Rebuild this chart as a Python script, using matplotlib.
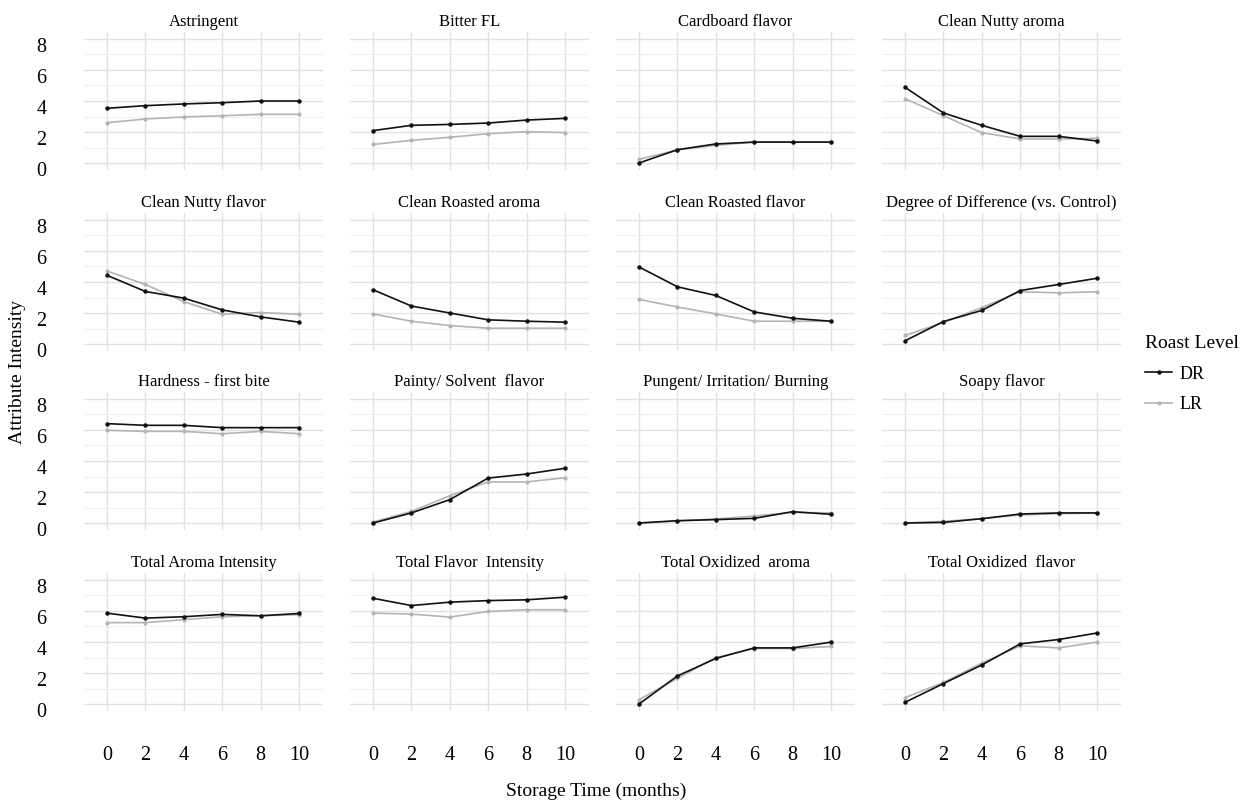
import matplotlib
matplotlib.use("Agg")
import matplotlib.pyplot as plt
import matplotlib.transforms as mtransforms
import numpy as np

plt.rcParams['font.family'] = ['Liberation Serif', 'DejaVu Serif']

# storage time (months)
months = [0, 2, 4, 6, 8, 10]

attributes = ['Astringent', 'Bitter FL', 'Cardboard flavor', 'Clean Nutty aroma',
              'Clean Nutty flavor', 'Clean Roasted aroma', 'Clean Roasted flavor',
              'Degree of Difference (vs. Control)',
              'Hardness - first bite', 'Painty/ Solvent  flavor',
              'Pungent/ Irritation/ Burning', 'Soapy flavor',
              'Total Aroma Intensity', 'Total Flavor  Intensity',
              'Total Oxidized  aroma', 'Total Oxidized  flavor']

# DR = dark roast, LR = light roast
dr_values = [
    [3.53, 3.70, 3.81, 3.89, 4.00, 4.00],
    [2.09, 2.43, 2.49, 2.58, 2.77, 2.88],
    [0.00, 0.86, 1.23, 1.35, 1.35, 1.35],
    [4.88, 3.23, 2.43, 1.72, 1.72, 1.42],
    [4.43, 3.39, 2.96, 2.20, 1.75, 1.41],
    [3.50, 2.45, 2.00, 1.56, 1.47, 1.41],
    [4.97, 3.69, 3.13, 2.07, 1.66, 1.47],
    [0.21, 1.45, 2.17, 3.45, 3.84, 4.24],
    [6.41, 6.30, 6.30, 6.15, 6.15, 6.15],
    [0.00, 0.65, 1.51, 2.90, 3.16, 3.53],
    [0.00, 0.15, 0.22, 0.30, 0.73, 0.56],
    [0.00, 0.04, 0.28, 0.58, 0.65, 0.65],
    [5.86, 5.54, 5.63, 5.78, 5.69, 5.84],
    [6.82, 6.35, 6.57, 6.67, 6.72, 6.89],
    [0.00, 1.81, 2.94, 3.62, 3.62, 3.99],
    [0.11, 1.32, 2.52, 3.88, 4.16, 4.58],
]
lr_values = [
    [2.60, 2.84, 2.97, 3.05, 3.14, 3.14],
    [1.20, 1.46, 1.66, 1.89, 2.02, 1.96],
    [0.24, 0.84, 1.14, 1.35, 1.35, 1.35],
    [4.15, 3.05, 1.96, 1.55, 1.55, 1.60],
    [4.71, 3.84, 2.73, 1.92, 2.03, 1.92],
    [1.94, 1.47, 1.19, 1.02, 1.02, 1.02],
    [2.88, 2.39, 1.94, 1.47, 1.47, 1.47],
    [0.55, 1.39, 2.35, 3.37, 3.30, 3.37],
    [5.98, 5.91, 5.91, 5.76, 5.91, 5.76],
    [0.06, 0.75, 1.76, 2.65, 2.65, 2.92],
    [0.00, 0.13, 0.26, 0.45, 0.69, 0.65],
    [0.00, 0.11, 0.28, 0.52, 0.60, 0.65],
    [5.25, 5.25, 5.44, 5.63, 5.69, 5.76],
    [5.86, 5.80, 5.61, 5.97, 6.08, 6.08],
    [0.28, 1.66, 2.99, 3.58, 3.58, 3.71],
    [0.41, 1.39, 2.64, 3.75, 3.62, 3.99],
]

W, H = 1241, 800
fig = plt.figure(figsize=(W / 100, H / 100), dpi=100)

# panel layout in pixels
col_left = [84, 350, 616, 882]
row_top = [32, 213, 392, 573]
pw, ph = 239, 138

dr_col = '#111111'
lr_col = '#b4b4b4'

# y tick labels sit a little below their gridlines in the original
ylab_shift = mtransforms.ScaledTranslation(0, -6 / 100, fig.dpi_scale_trans)

for k, name in enumerate(attributes):
    r, c = divmod(k, 4)
    ax = fig.add_axes([col_left[c] / W, 1 - (row_top[r] + ph) / H, pw / W, ph / H])
    ax.set_xlim(-1.2, 11.25)
    ax.set_ylim(-0.45, 8.45)
    ax.set_xticks(months)
    ax.set_yticks([0, 2, 4, 6, 8])
    ax.set_yticks([1, 3, 5, 7], minor=True)
    ax.grid(True, which='major', color='#e2e2e2', lw=1.0)
    ax.grid(True, which='minor', axis='y', color='#f0f0f0', lw=0.8)
    ax.set_axisbelow(True)
    for s in ax.spines.values():
        s.set_visible(False)
    ax.tick_params(which='both', length=0)
    ax.tick_params(axis='x', labelsize=14.5, pad=25)
    ax.tick_params(axis='y', labelsize=14.5, pad=27)
    if c != 0:
        ax.set_yticklabels([])
    else:
        for lab in ax.get_yticklabels():
            lab.set_transform(lab.get_transform() + ylab_shift)
    if r != 3:
        ax.set_xticklabels([])
    l1, = ax.plot(months, dr_values[k], color=dr_col, lw=1.2, marker='o', ms=2.2, label='DR', zorder=3)
    l2, = ax.plot(months, lr_values[k], color=lr_col, lw=1.2, marker='o', ms=2.0, label='LR', zorder=2)
    ax.set_title(name, fontsize=12, pad=4)

fig.text(18 / W, 1 - 372 / H, 'Attribute Intensity', rotation=90, ha='center', va='center', fontsize=14)
fig.text(596 / W, 1 - 791 / H, 'Storage Time (months)', ha='center', va='center', fontsize=14)

leg = fig.legend(handles=[l1, l2], labels=['DR', 'LR'], title='Roast Level',
                 loc='upper left', bbox_to_anchor=(1145 / W, 1 - 335 / H),
                 frameon=False, fontsize=13, title_fontsize=14, handlelength=1.5,
                 handletextpad=0.4, labelspacing=0.75, numpoints=1, alignment='left',
                 borderpad=0, borderaxespad=0)

fig.savefig('out.png', dpi=100)
